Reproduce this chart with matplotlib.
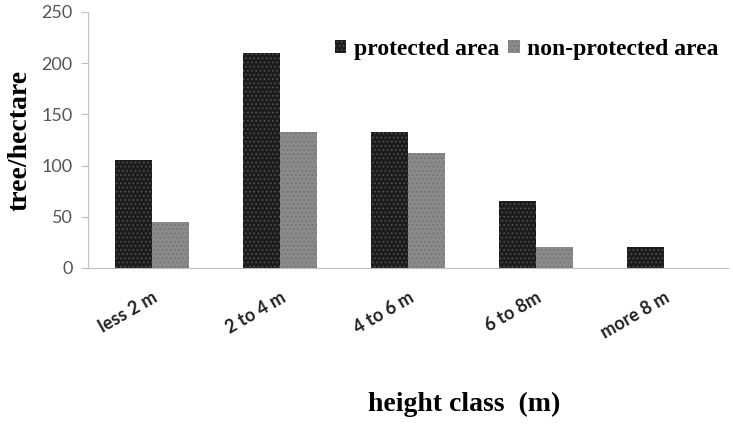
import matplotlib.pyplot as plt
import numpy as np

categories = ["less 2 m", "2 to 4 m", "4 to 6 m", "6 to 8m", "more 8 m"]
protected = [105, 210, 133, 65, 20]
non_protected = [45, 133, 112, 20, 0]

plt.rcParams["hatch.linewidth"] = 0.6

fig = plt.figure(figsize=(7.33, 4.28), dpi=100)
ax = fig.add_axes([0.12, 0.374, 0.873, 0.598])

x = np.arange(len(categories))
w = 0.29
ax.bar(x - w / 2, protected, w, color="#1c1c1c", edgecolor="#555555",
       hatch="....", linewidth=0, label="protected area")
ax.bar(x + w / 2, non_protected, w, color="#8a8a8a", edgecolor="#6e6e6e",
       hatch="....", linewidth=0, label="non-protected area")

ax.set_xlim(-0.5, len(categories) - 0.5)
ax.set_ylim(0, 250)
ax.set_yticks([0, 50, 100, 150, 200, 250])
ax.set_xticks(x)
ax.set_xticklabels(categories, rotation=30, ha="right", rotation_mode="anchor",
                   fontsize=13, fontweight="bold", family="Lato", color="#222222")
ax.tick_params(axis="x", length=0, pad=15)
ax.tick_params(axis="y", length=5, color="#bfbfbf", labelsize=13, labelcolor="#555555", pad=6)
for t in ax.get_yticklabels():
    t.set_family("Lato")

for s in ["top", "right"]:
    ax.spines[s].set_visible(False)
ax.spines["left"].set_color("#bfbfbf")
ax.spines["bottom"].set_color("#bfbfbf")

ax.set_ylabel("tree/hectare", family="Liberation Serif", fontweight="bold", fontsize=20)
ax.yaxis.set_label_coords(-0.087, 0.5)
fig.text(0.633, 0.04, "height class  (m)", family="Liberation Serif", fontweight="bold",
         fontsize=20, ha="center", va="baseline")

ax.legend(loc="upper right", bbox_to_anchor=(1.019, 0.977), ncol=2, frameon=False,
          prop={"family": "Liberation Serif", "weight": "bold", "size": 17},
          handlelength=0.5, handleheight=0.5, handletextpad=0.3, columnspacing=0.4)

fig.savefig("out.png", dpi=100)
